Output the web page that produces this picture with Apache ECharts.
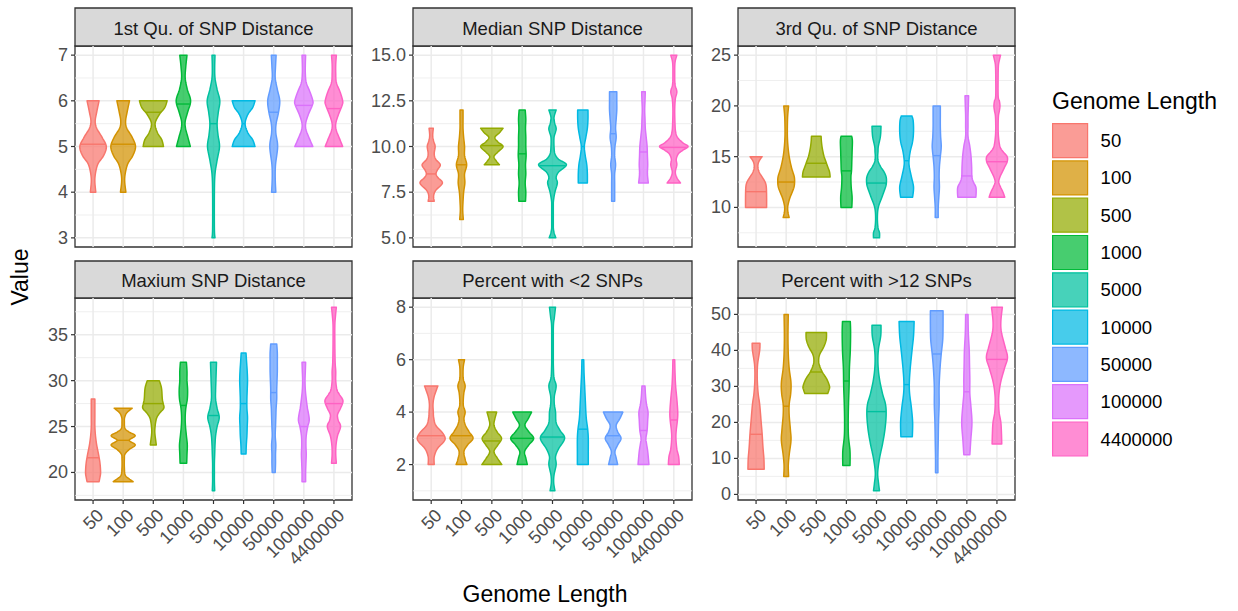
<!DOCTYPE html>
<html>
<head>
<meta charset="utf-8">
<script src="https://cdn.jsdelivr.net/npm/echarts@6/dist/echarts.min.js"></script>
<style>
  html, body { margin: 0; padding: 0; background: #fff; }
  #chart { width: 1238px; height: 611px; }
</style>
</head>
<body>
<div id="chart"></div>
<script>
// categories & labels
var genomeLengths = ['50', '100', '500', '1000', '5000', '10000', '50000', '100000', '4400000']
var panelTitles = ['1st Qu. of SNP Distance', 'Median SNP Distance', '3rd Qu. of SNP Distance',
  'Maxium SNP Distance', 'Percent with <2 SNPs', 'Percent with >12 SNPs']

var yTicks1 = [3, 4, 5, 6, 7]
var yLabels1 = ['3', '4', '5', '6', '7']
var yTicks2 = [5, 7.5, 10, 12.5, 15]
var yLabels2 = ['5.0', '7.5', '10.0', '12.5', '15.0']
var yTicks3 = [10, 15, 20, 25]
var yLabels3 = ['10', '15', '20', '25']
var yTicks4 = [20, 25, 30, 35]
var yLabels4 = ['20', '25', '30', '35']
var yTicks5 = [2, 4, 6, 8]
var yLabels5 = ['2', '4', '6', '8']
var yTicks6 = [0, 10, 20, 30, 40, 50]
var yLabels6 = ['0', '10', '20', '30', '40', '50']

// violin outlines: [value, half width in category units]
var violins1 = [
  [[4.0, 0.09], [4.3, 0.06], [4.6, 0.15], [4.8, 0.35], [5.0, 0.44], [5.2, 0.3], [5.4, 0.12], [5.55, 0.07], [5.75, 0.12], [6.0, 0.2]],
  [[4.0, 0.09], [4.3, 0.05], [4.6, 0.14], [4.8, 0.32], [5.0, 0.41], [5.2, 0.3], [5.4, 0.12], [5.55, 0.08], [5.75, 0.13], [6.0, 0.21]],
  [[5.0, 0.34], [5.15, 0.28], [5.3, 0.14], [5.5, 0.06], [5.7, 0.2], [5.85, 0.38], [6.0, 0.46]],
  [[5.0, 0.23], [5.2, 0.15], [5.4, 0.07], [5.55, 0.06], [5.75, 0.14], [6.0, 0.24], [6.25, 0.13], [6.5, 0.06], [6.75, 0.08], [7.0, 0.12]],
  [[3.0, 0.05], [3.2, 0.03], [4.0, 0.03], [4.4, 0.05], [4.7, 0.12], [5.0, 0.2], [5.25, 0.15], [5.5, 0.12], [5.75, 0.16], [6.0, 0.21], [6.25, 0.12], [6.5, 0.05], [6.75, 0.04], [7.0, 0.05]],
  [[5.0, 0.38], [5.15, 0.3], [5.3, 0.14], [5.5, 0.05], [5.7, 0.14], [5.85, 0.3], [6.0, 0.38]],
  [[4.0, 0.07], [4.3, 0.05], [4.6, 0.06], [5.0, 0.13], [5.3, 0.07], [5.5, 0.08], [5.75, 0.16], [6.0, 0.2], [6.25, 0.12], [6.5, 0.05], [6.75, 0.06], [7.0, 0.08]],
  [[5.0, 0.3], [5.15, 0.2], [5.35, 0.08], [5.5, 0.06], [5.7, 0.15], [5.9, 0.28], [6.0, 0.3], [6.2, 0.2], [6.4, 0.08], [6.6, 0.05], [6.8, 0.05], [7.0, 0.06]],
  [[5.0, 0.29], [5.15, 0.2], [5.35, 0.08], [5.5, 0.06], [5.7, 0.15], [5.9, 0.27], [6.0, 0.29], [6.2, 0.2], [6.4, 0.08], [6.6, 0.06], [6.8, 0.06], [7.0, 0.08]]
]
var medians1 = [5.05, 5.05, 5.75, 5.93, 5.5, 5.5, 5.75, 5.9, 5.83]

var violins2 = [
  [[7.0, 0.1], [7.3, 0.08], [7.6, 0.15], [8.0, 0.37], [8.3, 0.22], [8.5, 0.16], [8.7, 0.2], [9.0, 0.3], [9.3, 0.15], [9.6, 0.1], [10.0, 0.13], [10.3, 0.08], [10.6, 0.05], [11.0, 0.07]],
  [[6.0, 0.06], [6.5, 0.04], [7.0, 0.05], [7.5, 0.07], [8.0, 0.11], [8.5, 0.1], [9.0, 0.17], [9.5, 0.1], [10.0, 0.1], [10.5, 0.07], [11.0, 0.05], [11.5, 0.05], [12.0, 0.05]],
  [[9.0, 0.25], [9.2, 0.15], [9.45, 0.07], [9.7, 0.2], [10.0, 0.37], [10.25, 0.2], [10.5, 0.1], [10.75, 0.25], [11.0, 0.37]],
  [[7.0, 0.11], [7.5, 0.12], [8.0, 0.1], [8.5, 0.12], [9.0, 0.11], [9.5, 0.13], [10.0, 0.12], [10.5, 0.12], [11.0, 0.11], [11.5, 0.12], [12.0, 0.1]],
  [[5.0, 0.11], [5.3, 0.05], [5.7, 0.02], [6.5, 0.02], [7.0, 0.03], [7.5, 0.08], [8.0, 0.16], [8.3, 0.12], [8.6, 0.2], [9.0, 0.46], [9.3, 0.2], [9.6, 0.08], [10.0, 0.05], [10.5, 0.05], [10.8, 0.1], [11.0, 0.12], [11.3, 0.07], [11.6, 0.05], [12.0, 0.12]],
  [[8.0, 0.15], [8.5, 0.15], [9.0, 0.13], [9.5, 0.08], [10.0, 0.05], [10.5, 0.1], [11.0, 0.15], [11.5, 0.17], [12.0, 0.17]],
  [[7.0, 0.05], [7.5, 0.05], [8.0, 0.05], [8.5, 0.05], [9.0, 0.08], [9.5, 0.05], [10.0, 0.06], [10.5, 0.1], [11.0, 0.08], [11.5, 0.1], [12.0, 0.12], [12.5, 0.12], [13.0, 0.12]],
  [[8.0, 0.16], [8.5, 0.13], [9.0, 0.14], [9.5, 0.13], [10.0, 0.12], [10.5, 0.09], [11.0, 0.06], [11.5, 0.05], [12.0, 0.04], [12.5, 0.05], [13.0, 0.06]],
  [[8.0, 0.22], [8.3, 0.1], [8.6, 0.05], [9.0, 0.1], [9.3, 0.08], [9.6, 0.15], [9.8, 0.3], [10.0, 0.47], [10.2, 0.3], [10.5, 0.12], [10.8, 0.06], [11.2, 0.04], [12.0, 0.03], [12.6, 0.05], [13.0, 0.1], [13.4, 0.04], [14.0, 0.03], [14.6, 0.04], [15.0, 0.1]]
]
var medians2 = [8.5, 9.0, 10.05, 9.6, 8.95, 10.0, 10.7, 9.7, 9.95]

var violins3 = [
  [[10.0, 0.35], [11.0, 0.35], [12.0, 0.34], [12.5, 0.3], [13.0, 0.2], [13.5, 0.1], [14.0, 0.06], [14.5, 0.09], [15.0, 0.2]],
  [[9.0, 0.1], [9.5, 0.06], [10.0, 0.05], [10.5, 0.08], [11.0, 0.13], [11.5, 0.2], [12.0, 0.26], [12.5, 0.28], [13.0, 0.27], [13.5, 0.22], [14.0, 0.17], [15.0, 0.1], [16.0, 0.06], [17.0, 0.04], [18.0, 0.04], [19.0, 0.05], [20.0, 0.08]],
  [[13.0, 0.46], [13.5, 0.44], [14.0, 0.38], [14.5, 0.32], [15.0, 0.26], [15.5, 0.22], [16.0, 0.19], [16.5, 0.17], [17.0, 0.16]],
  [[10.0, 0.18], [11.0, 0.19], [12.0, 0.16], [13.0, 0.15], [13.6, 0.17], [14.5, 0.18], [15.5, 0.19], [16.5, 0.2], [17.0, 0.18]],
  [[7.0, 0.1], [7.5, 0.1], [8.0, 0.05], [9.0, 0.03], [10.0, 0.06], [11.0, 0.18], [12.0, 0.3], [12.5, 0.33], [13.0, 0.32], [13.5, 0.25], [14.0, 0.14], [14.5, 0.06], [15.0, 0.04], [15.5, 0.05], [16.0, 0.06], [17.0, 0.13], [18.0, 0.15]],
  [[11.0, 0.2], [12.0, 0.23], [13.0, 0.16], [14.0, 0.09], [14.6, 0.08], [15.5, 0.12], [16.5, 0.2], [17.5, 0.23], [18.5, 0.22], [19.0, 0.18]],
  [[9.0, 0.05], [10.0, 0.05], [11.0, 0.07], [12.0, 0.09], [13.0, 0.08], [14.0, 0.09], [15.0, 0.12], [16.0, 0.15], [17.0, 0.13], [18.0, 0.12], [19.0, 0.12], [20.0, 0.12]],
  [[11.0, 0.3], [11.5, 0.31], [12.0, 0.3], [12.5, 0.22], [13.0, 0.17], [14.0, 0.16], [15.0, 0.14], [16.0, 0.1], [17.0, 0.04], [18.0, 0.04], [19.0, 0.04], [20.0, 0.05], [21.0, 0.06]],
  [[11.0, 0.26], [11.5, 0.2], [12.0, 0.12], [12.5, 0.06], [13.0, 0.1], [13.5, 0.18], [14.0, 0.26], [14.5, 0.34], [15.0, 0.34], [15.5, 0.2], [16.0, 0.1], [17.0, 0.05], [18.0, 0.04], [19.0, 0.05], [19.5, 0.08], [20.0, 0.1], [20.5, 0.08], [21.0, 0.04], [23.0, 0.04], [24.0, 0.05], [24.5, 0.08], [25.0, 0.12]]
]
var medians3 = [11.55, 12.5, 14.35, 13.6, 12.4, 14.6, 15.1, 13.1, 14.5]

var violins4 = [
  [[19.0, 0.2], [19.5, 0.23], [20.0, 0.25], [21.0, 0.23], [22.0, 0.18], [23.0, 0.12], [24.0, 0.08], [25.0, 0.06], [26.0, 0.06], [27.0, 0.06], [28.0, 0.06]],
  [[19.0, 0.33], [19.3, 0.2], [19.7, 0.07], [20.5, 0.04], [21.5, 0.04], [22.0, 0.06], [22.5, 0.2], [23.0, 0.4], [23.5, 0.2], [24.0, 0.4], [24.4, 0.2], [24.8, 0.06], [25.5, 0.04], [26.0, 0.05], [26.5, 0.12], [27.0, 0.3]],
  [[23.0, 0.1], [23.5, 0.08], [24.0, 0.06], [24.5, 0.05], [25.0, 0.06], [25.5, 0.08], [26.0, 0.12], [26.5, 0.22], [27.0, 0.35], [27.5, 0.33], [28.0, 0.3], [29.0, 0.28], [29.5, 0.25], [30.0, 0.2]],
  [[21.0, 0.11], [22.0, 0.12], [23.0, 0.13], [24.0, 0.1], [25.0, 0.07], [26.0, 0.06], [27.0, 0.08], [28.0, 0.13], [29.0, 0.14], [30.0, 0.12], [31.0, 0.12], [32.0, 0.1]],
  [[18.0, 0.04], [19.0, 0.03], [20.0, 0.03], [21.0, 0.03], [22.0, 0.04], [23.0, 0.05], [24.0, 0.07], [25.0, 0.12], [26.0, 0.19], [27.0, 0.12], [28.0, 0.07], [29.0, 0.07], [30.0, 0.08], [31.0, 0.09], [32.0, 0.1]],
  [[22.0, 0.08], [23.0, 0.09], [24.0, 0.11], [25.0, 0.12], [26.0, 0.13], [27.0, 0.11], [28.0, 0.11], [29.0, 0.12], [30.0, 0.13], [31.0, 0.12], [32.0, 0.1], [33.0, 0.08]],
  [[20.0, 0.05], [21.0, 0.06], [22.0, 0.06], [23.0, 0.07], [24.0, 0.05], [25.0, 0.06], [26.0, 0.07], [27.0, 0.08], [28.0, 0.1], [29.0, 0.1], [30.0, 0.11], [31.0, 0.12], [32.0, 0.12], [33.0, 0.12], [34.0, 0.1]],
  [[19.0, 0.06], [20.0, 0.06], [21.0, 0.07], [22.0, 0.08], [23.0, 0.07], [24.0, 0.08], [25.0, 0.13], [25.7, 0.18], [26.5, 0.15], [27.0, 0.12], [28.0, 0.08], [29.0, 0.05], [30.0, 0.04], [31.0, 0.05], [32.0, 0.06]],
  [[21.0, 0.08], [22.0, 0.06], [23.0, 0.07], [24.0, 0.12], [25.0, 0.22], [25.7, 0.14], [26.3, 0.12], [27.0, 0.22], [27.8, 0.3], [28.5, 0.18], [29.0, 0.1], [30.0, 0.06], [31.0, 0.06], [32.0, 0.04], [34.0, 0.03], [36.0, 0.03], [37.0, 0.05], [38.0, 0.08]]
]
var medians4 = [21.6, 23.5, 27.5, 27.3, 26.2, 27.5, 28.7, 25.0, 27.5]

var violins5 = [
  [[2.0, 0.1], [2.3, 0.1], [2.6, 0.2], [2.85, 0.4], [3.0, 0.46], [3.2, 0.38], [3.5, 0.15], [3.8, 0.08], [4.0, 0.07], [4.3, 0.06], [4.6, 0.1], [5.0, 0.22]],
  [[2.0, 0.18], [2.2, 0.12], [2.5, 0.08], [2.75, 0.2], [3.0, 0.38], [3.25, 0.25], [3.5, 0.13], [3.75, 0.08], [4.0, 0.12], [4.25, 0.06], [4.5, 0.06], [4.75, 0.08], [5.0, 0.12], [5.25, 0.06], [5.5, 0.05], [5.75, 0.06], [6.0, 0.1]],
  [[2.0, 0.33], [2.25, 0.18], [2.5, 0.07], [2.75, 0.2], [3.0, 0.32], [3.25, 0.17], [3.5, 0.07], [3.75, 0.1], [4.0, 0.16]],
  [[2.0, 0.17], [2.25, 0.12], [2.5, 0.08], [2.75, 0.22], [3.0, 0.38], [3.25, 0.22], [3.5, 0.09], [3.75, 0.2], [4.0, 0.31]],
  [[1.0, 0.08], [1.3, 0.04], [1.6, 0.05], [2.0, 0.12], [2.3, 0.1], [2.6, 0.2], [3.0, 0.4], [3.3, 0.25], [3.6, 0.12], [4.0, 0.1], [4.3, 0.06], [4.6, 0.06], [5.0, 0.12], [5.3, 0.05], [5.7, 0.03], [6.5, 0.02], [7.3, 0.03], [7.6, 0.06], [8.0, 0.1]],
  [[2.0, 0.18], [2.5, 0.18], [3.0, 0.18], [3.35, 0.16], [3.7, 0.12], [4.0, 0.1], [4.5, 0.08], [5.0, 0.06], [5.5, 0.04], [6.0, 0.03]],
  [[2.0, 0.15], [2.25, 0.1], [2.5, 0.06], [2.75, 0.15], [3.0, 0.26], [3.25, 0.15], [3.5, 0.1], [3.75, 0.22], [4.0, 0.32]],
  [[2.0, 0.18], [2.5, 0.14], [2.8, 0.1], [3.0, 0.08], [3.3, 0.12], [3.7, 0.14], [4.0, 0.15], [4.3, 0.1], [4.6, 0.07], [5.0, 0.05]],
  [[2.0, 0.18], [2.3, 0.16], [2.6, 0.1], [3.0, 0.07], [3.3, 0.08], [3.7, 0.12], [4.0, 0.13], [4.5, 0.1], [5.0, 0.06], [5.5, 0.04], [6.0, 0.03]]
]
var medians5 = [3.1, 3.1, 2.9, 3.0, 3.05, 3.35, 3.1, 3.3, 3.7]

var violins6 = [
  [[7, 0.27], [10, 0.26], [13, 0.23], [17, 0.2], [20, 0.17], [25, 0.12], [28, 0.07], [32, 0.04], [36, 0.05], [40, 0.12], [42, 0.13]],
  [[5, 0.08], [8, 0.07], [11, 0.1], [15, 0.16], [18, 0.14], [22, 0.1], [25, 0.1], [28, 0.15], [31, 0.16], [35, 0.1], [39, 0.07], [44, 0.06], [50, 0.07]],
  [[28, 0.38], [29, 0.42], [30, 0.44], [32, 0.35], [34, 0.2], [36, 0.1], [37.5, 0.08], [39, 0.12], [41, 0.25], [43, 0.33], [45, 0.34]],
  [[8, 0.12], [12, 0.12], [16, 0.07], [20, 0.06], [25, 0.07], [30, 0.09], [35, 0.1], [40, 0.13], [45, 0.14], [48, 0.13]],
  [[1, 0.1], [3, 0.07], [6, 0.04], [10, 0.1], [14, 0.2], [18, 0.28], [22, 0.32], [25, 0.3], [28, 0.2], [32, 0.1], [36, 0.05], [40, 0.06], [44, 0.14], [47, 0.15]],
  [[16, 0.19], [20, 0.2], [24, 0.16], [28, 0.1], [31, 0.09], [35, 0.12], [40, 0.18], [44, 0.23], [48, 0.25]],
  [[6, 0.04], [10, 0.04], [15, 0.05], [20, 0.06], [25, 0.08], [30, 0.08], [35, 0.11], [39, 0.15], [43, 0.2], [47, 0.21], [51, 0.21]],
  [[11, 0.1], [15, 0.13], [20, 0.17], [25, 0.13], [28, 0.1], [32, 0.1], [36, 0.09], [40, 0.08], [45, 0.05], [50, 0.04]],
  [[14, 0.16], [17, 0.15], [20, 0.13], [23, 0.07], [27, 0.06], [31, 0.12], [35, 0.25], [38, 0.35], [41, 0.27], [45, 0.15], [48, 0.13], [52, 0.18]]
]
var medians6 = [16.7, 24.5, 34.0, 31.5, 23.0, 30.5, 39.0, 28.5, 37.5]

// styles
var lineColors = ['#F8766D', '#D39200', '#93AA00', '#00BA38', '#00C19F', '#00B9E3', '#619CFF', '#DB72FB', '#FF61C3']
var fillAlpha = 0.72
var font = "'Liberation Sans', Arial, sans-serif"

function fillOf (hex) {
  var r = parseInt(hex.slice(1, 3), 16)
  var g = parseInt(hex.slice(3, 5), 16)
  var b = parseInt(hex.slice(5, 7), 16)
  return 'rgba(' + r + ',' + g + ',' + b + ',' + fillAlpha + ')'
}

var panels = [
  { ticks: yTicks1, labels: yLabels1, violins: violins1, medians: medians1, range: [2.8, 7.2] },
  { ticks: yTicks2, labels: yLabels2, violins: violins2, medians: medians2, range: [4.5, 15.5] },
  { ticks: yTicks3, labels: yLabels3, violins: violins3, medians: medians3, range: [6.1, 25.9] },
  { ticks: yTicks4, labels: yLabels4, violins: violins4, medians: medians4, range: [17, 39] },
  { ticks: yTicks5, labels: yLabels5, violins: violins5, medians: medians5, range: [0.65, 8.35] },
  { ticks: yTicks6, labels: yLabels6, violins: violins6, medians: medians6, range: [-1.55, 54.55] }
]

// panel layout (px)
var colLeft = [75, 413, 738]
var colWidth = [277, 279, 277]
var rowTop = [46, 298]
var rowHeight = [201, 202]
var stripTop = [8, 261]

var xMin = -0.6
var xMax = genomeLengths.length - 0.4

// catmull-rom through outline points (pixel space), for drawing only
function smoothPts (p, n) {
  var out = []
  for (var k = 0; k < p.length - 1; k++) {
    var p0 = p[Math.max(k - 1, 0)]
    var p1 = p[k]
    var p2 = p[k + 1]
    var p3 = p[Math.min(k + 2, p.length - 1)]
    for (var s = 0; s < n; s++) {
      var t = s / n
      var t2 = t * t
      var t3 = t2 * t
      var f = function (a, b, c, d) {
        return 0.5 * ((2 * b) + (-a + c) * t + (2 * a - 5 * b + 4 * c - d) * t2 + (-a + 3 * b - 3 * c + d) * t3)
      }
      out.push([f(p0[0], p1[0], p2[0], p3[0]), Math.max(0.8, f(p0[1], p1[1], p2[1], p3[1]))])
    }
  }
  out.push(p[p.length - 1])
  return out
}

function widthAt (profile, v) {
  for (var k = 0; k < profile.length - 1; k++) {
    var a = profile[k]
    var b = profile[k + 1]
    if (v >= a[0] && v <= b[0]) {
      return a[1] + (b[1] - a[1]) * (v - a[0]) / (b[0] - a[0])
    }
  }
  return 0
}

function violinRender (profile, median, color) {
  return function (params, api) {
    var i = api.value(0)
    var band = api.size([1, 0])[0]
    var cx = api.coord([i, profile[0][0]])[0]
    var pts = profile.map(function (p) {
      return [api.coord([i, p[0]])[1], p[1] * band]
    })
    var dense = smoothPts(pts, 8)
    var right = dense.map(function (d) { return [cx + d[1], d[0]] })
    var left = dense.slice().reverse().map(function (d) { return [cx - d[1], d[0]] })
    var my = api.coord([i, median])[1]
    var mw = widthAt(profile, median) * band
    return {
      type: 'group',
      children: [
        {
          type: 'polygon',
          shape: { points: right.concat(left) },
          style: { fill: fillOf(color), stroke: color, lineWidth: 1.5, lineJoin: 'round' }
        },
        {
          type: 'line',
          shape: { x1: cx - mw, y1: my, x2: cx + mw, y2: my },
          style: { stroke: color, lineWidth: 1.4 }
        }
      ]
    }
  }
}

function frameRender (panel, showX) {
  return function (params, api) {
    var children = []
    var lo = panel.range[0]
    var hi = panel.range[1]
    var t = panel.ticks
    var step = t[1] - t[0]
    var minors = []
    for (var k = -1; k < t.length; k++) {
      var m = t[0] + step * (k + 0.5)
      if (m > lo && m < hi) minors.push(m)
    }
    minors.forEach(function (v) {
      var a = api.coord([xMin, v])
      var b = api.coord([xMax, v])
      children.push({ type: 'line', shape: { x1: a[0], y1: a[1], x2: b[0], y2: b[1] }, style: { stroke: '#EBEBEB', lineWidth: 0.8 } })
    })
    t.forEach(function (v, j) {
      var a = api.coord([xMin, v])
      var b = api.coord([xMax, v])
      children.push({ type: 'line', shape: { x1: a[0], y1: a[1], x2: b[0], y2: b[1] }, style: { stroke: '#EBEBEB', lineWidth: 1.5 } })
      children.push({ type: 'line', shape: { x1: a[0] - 4, y1: a[1], x2: a[0], y2: a[1] }, style: { stroke: '#333333', lineWidth: 1.2 } })
      children.push({
        type: 'text',
        style: { text: panel.labels[j], x: a[0] - 7, y: a[1], align: 'right', verticalAlign: 'middle', fill: '#4D4D4D', fontSize: 18, fontFamily: font }
      })
    })
    genomeLengths.forEach(function (g, i) {
      var a = api.coord([i, lo])
      var b = api.coord([i, hi])
      children.push({ type: 'line', shape: { x1: a[0], y1: a[1], x2: b[0], y2: b[1] }, style: { stroke: '#EBEBEB', lineWidth: 1.5 } })
      if (showX) {
        children.push({ type: 'line', shape: { x1: a[0], y1: a[1], x2: a[0], y2: a[1] + 4 }, style: { stroke: '#333333', lineWidth: 1.2 } })
        children.push({
          type: 'text',
          x: a[0] + 1,
          y: a[1] + 6,
          rotation: Math.PI / 4,
          style: { text: g, x: 0, y: 0, align: 'right', verticalAlign: 'top', fill: '#4D4D4D', fontSize: 18, fontFamily: font }
        })
      }
    })
    return { type: 'group', children: children }
  }
}

var grids = []
var xAxes = []
var yAxes = []
var series = []
var graphics = []

panels.forEach(function (panel, p) {
  var col = p % 3
  var row = Math.floor(p / 3)
  grids.push({
    left: colLeft[col], top: rowTop[row], width: colWidth[col], height: rowHeight[row],
    show: true, borderColor: '#333333', borderWidth: 1.3, backgroundColor: '#FFFFFF'
  })
  xAxes.push({ type: 'value', gridIndex: p, min: xMin, max: xMax, show: false })
  yAxes.push({ type: 'value', gridIndex: p, min: panel.range[0], max: panel.range[1], show: false })
  series.push({
    type: 'custom',
    xAxisIndex: p,
    yAxisIndex: p,
    silent: true,
    clip: false,
    z: 1,
    data: [[0, panel.range[0]]],
    renderItem: frameRender(panel, row === 1)
  })
  genomeLengths.forEach(function (g, i) {
    series.push({
      type: 'custom',
      name: g,
      xAxisIndex: p,
      yAxisIndex: p,
      z: 3,
      itemStyle: { color: fillOf(lineColors[i]), borderColor: lineColors[i] },
      data: [[i, panel.medians[i]]],
      renderItem: violinRender(panel.violins[i], panel.medians[i], lineColors[i])
    })
  })
  graphics.push({
    type: 'rect',
    shape: { x: colLeft[col], y: stripTop[row], width: colWidth[col], height: rowTop[row] - stripTop[row] },
    style: { fill: '#D9D9D9', stroke: '#333333', lineWidth: 1.3 }
  })
  graphics.push({
    type: 'text',
    x: colLeft[col] + colWidth[col] / 2,
    y: (stripTop[row] + rowTop[row]) / 2 + 1,
    style: { text: panelTitles[p], align: 'center', verticalAlign: 'middle', fill: '#1A1A1A', fontSize: 18.5, fontFamily: font }
  })
})

graphics.push({
  type: 'text', x: 545, y: 594,
  style: { text: 'Genome Length', align: 'center', verticalAlign: 'middle', fill: '#000', fontSize: 23, fontFamily: font }
})
graphics.push({
  type: 'text', x: 20, y: 277, rotation: Math.PI / 2,
  style: { text: 'Value', align: 'center', verticalAlign: 'middle', fill: '#000', fontSize: 23, fontFamily: font }
})
graphics.push({
  type: 'text', x: 1052, y: 101,
  style: { text: 'Genome Length', align: 'left', verticalAlign: 'middle', fill: '#000', fontSize: 23, fontFamily: font }
})

var chart = echarts.init(document.getElementById('chart'), null, { renderer: 'svg' })
chart.setOption({
  animation: false,
  backgroundColor: '#FFFFFF',
  grid: grids,
  xAxis: xAxes,
  yAxis: yAxes,
  legend: {
    orient: 'vertical',
    left: 1052,
    top: 123,
    padding: 0,
    icon: 'rect',
    itemWidth: 35,
    itemHeight: 34,
    itemGap: 2.1,
    selectedMode: false,
    textStyle: { fontSize: 18.5, fontFamily: font, color: '#000', padding: [0, 0, 0, 8] },
    data: genomeLengths.map(function (g, i) {
      return { name: g, itemStyle: { color: fillOf(lineColors[i]), borderColor: lineColors[i], borderWidth: 1.2 } }
    })
  },
  graphic: graphics,
  series: series
})
</script>
</body>
</html>
